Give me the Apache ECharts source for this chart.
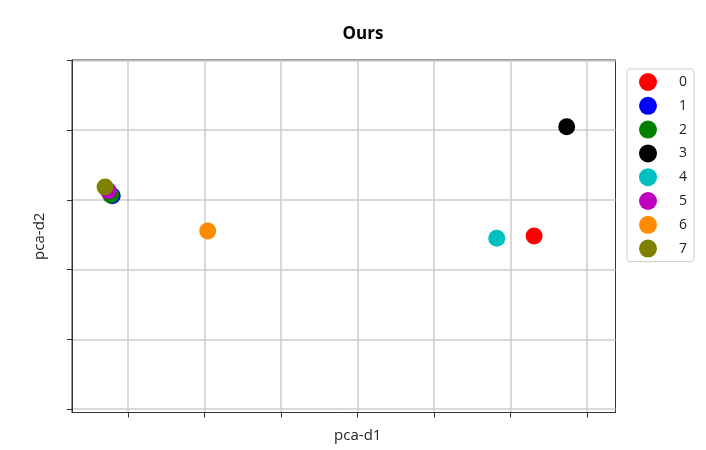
<!DOCTYPE html>
<html lang="en">
<head>
    <meta charset="UTF-8">
    <script src="https://cdn.jsdelivr.net/npm/echarts@6/dist/echarts.min.js"></script>
    <title>Ours</title>
    <style type="text/css">
        body { margin: 0; }
        .chart {
            width: 706px;
            height: 450px;
            background-color: #ffffff;
        }
    </style>
</head>
<body>
    <div id="chart" class="chart"></div>
<script type="text/javascript">
    // cluster centres in pca space
    var names = ['0', '1', '2', '3', '4', '5', '6', '7'];
    var colors = ['#ff0000', '#0000ff', '#008000', '#000000', '#00bfbf', '#bf00bf', '#ff8c00', '#808000'];
    var pcaD1 = [1.154, -1.603, -1.613, 1.367, 0.910, -1.629, -0.979, -1.650];
    var pcaD2 = [0.241, 0.530, 0.535, 1.025, 0.225, 0.566, 0.277, 0.593];
    var xTicks = [-1.5, -1.0, -0.5, 0, 0.5, 1.0, 1.5];
    var yTicks = [-1.0, -0.5, 0, 0.5, 1.0, 1.5];

    var series = names.map(function (n, i) {
        return {
            name: n,
            type: 'scatter',
            symbolSize: 17,
            itemStyle: { color: colors[i], opacity: 1 },
            data: [[pcaD1[i], pcaD2[i]]]
        };
    });

    var font = '"Open Sans", sans-serif';

    var option = {
        animation: false,
        title: {
            text: 'Ours',
            left: 358,
            top: 21,
            textAlign: 'center',
            textStyle: { fontSize: 17, fontWeight: 'bold', color: '#000', fontFamily: font }
        },
        legend: {
            orient: 'vertical',
            left: 627,
            top: 69,
            padding: [4, 7, 4, 12],
            itemWidth: 18,
            itemHeight: 18,
            itemGap: 5.8,
            icon: 'circle',
            borderColor: '#cccccc',
            borderWidth: 1,
            borderRadius: 3,
            textStyle: { fontSize: 14, color: '#222', fontFamily: font, padding: [0, 0, 0, 17] },
            data: names
        },
        grid: {
            left: 72, right: 90.5, top: 60, bottom: 37.5,
            outerBoundsMode: 'none',
            containLabel: false,
            show: true,
            borderColor: '#333',
            borderWidth: 1
        },
        xAxis: {
            type: 'value',
            min: -1.866, max: 1.686,
            name: 'pca-d1',
            nameLocation: 'middle',
            nameGap: 16,
            nameTextStyle: { fontSize: 15, color: '#222', fontFamily: font, padding: [0, 0, 0, 28] },
            axisLine: { show: true, onZero: false, lineStyle: { color: '#333' } },
            axisTick: { show: true, inside: false, length: 5, customValues: xTicks, lineStyle: { color: '#333' } },
            axisLabel: { show: false },
            splitLine: { show: true, lineStyle: { color: '#cccccc', width: 1.5 } }
        },
        yAxis: {
            type: 'value',
            min: -1.025, max: 1.504,
            name: 'pca-d2',
            nameLocation: 'middle',
            nameGap: 25,
            nameTextStyle: { fontSize: 15, color: '#222', fontFamily: font },
            axisLine: { show: true, onZero: false, lineStyle: { color: '#333' } },
            axisTick: { show: true, inside: false, length: 5, customValues: yTicks, lineStyle: { color: '#333' } },
            axisLabel: { show: false },
            splitLine: { show: true, lineStyle: { color: '#cccccc', width: 1.5 } }
        },
        series: series
    };

    var myChart = echarts.init(document.getElementById('chart'));
    myChart.setOption(option);
</script>
</body>
</html>
